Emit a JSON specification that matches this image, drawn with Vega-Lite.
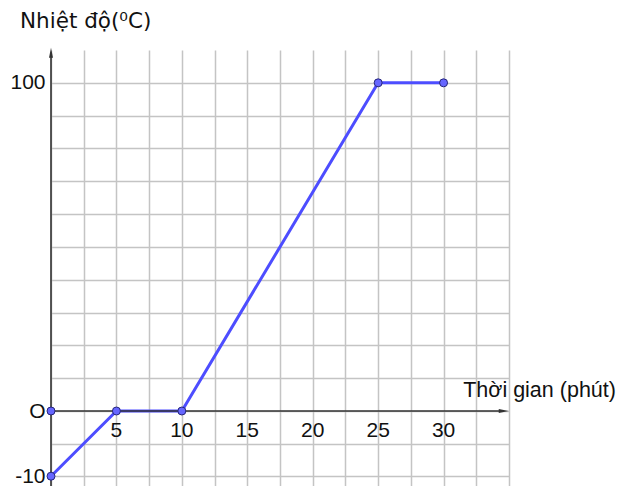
{
  "$schema": "https://vega.github.io/schema/vega-lite/v6.json",
  "width": 458,
  "height": 436,
  "autosize": {"type": "none"},
  "padding": {"left": 51, "top": 50, "right": 112, "bottom": 0},
  "background": "white",
  "config": {
    "view": {"stroke": null},
    "axisX": {"grid": true, "gridColor": "#c4c4c4", "gridWidth": 1.5, "gridOpacity": 1, "labels": false, "ticks": false, "domain": false},
    "axisY": {"grid": true, "gridColor": "#c4c4c4", "gridWidth": 1.5, "gridOpacity": 1, "ticks": false, "domain": false,
      "labelFont": "Liberation Sans", "labelFontSize": 21, "labelColor": "#111111", "labelPadding": 6, "labelBaseline": "middle", "labelFlush": false, "labelOverlap": false}
  },
  "layer": [
    {
      "data": {"values": [
        {"t": 0, "temp": -10},
        {"t": 5, "temp": 0},
        {"t": 10, "temp": 0},
        {"t": 25, "temp": 100},
        {"t": 30, "temp": 100}
      ]},
      "mark": {"type": "line", "color": "#4d4dff", "strokeWidth": 3},
      "encoding": {
        "x": {"field": "t", "type": "quantitative",
          "scale": {"domain": [0, 35], "nice": false, "zero": false},
          "axis": {"title": null, "values": [0, 2.5, 5, 7.5, 10, 12.5, 15, 17.5, 20, 22.5, 25, 27.5, 30, 32.5, 35]}},
        "y": {"field": "temp", "type": "quantitative",
          "scale": {"domain": [-11.5, 0, 110], "range": [436, 361, 0], "nice": false, "zero": false},
          "axis": {"title": null, "values": [-10, -5, 0, 10, 20, 30, 40, 50, 60, 70, 80, 90, 100],
            "labelExpr": "datum.value == 0 ? 'O' : datum.value == 100 ? '100' : datum.value == -10 ? '-10' : ''"}}
      }
    },
    {
      "data": {"values": [{}]},
      "mark": {"type": "rule", "color": "#333333", "strokeWidth": 1.6},
      "encoding": {
        "x": {"datum": 0, "type": "quantitative",
          "axis": {"title": null, "values": [0, 2.5, 5, 7.5, 10, 12.5, 15, 17.5, 20, 22.5, 25, 27.5, 30, 32.5, 35]}},
        "y": {"datum": -11.5, "type": "quantitative",
          "axis": {"title": null, "values": [-10, -5, 0, 10, 20, 30, 40, 50, 60, 70, 80, 90, 100],
            "labelExpr": "datum.value == 0 ? 'O' : datum.value == 100 ? '100' : datum.value == -10 ? '-10' : ''"}},
        "y2": {"datum": 108.5}
      }
    },
    {
      "data": {"values": [{}]},
      "mark": {"type": "rule", "color": "#333333", "strokeWidth": 1.6},
      "encoding": {
        "x": {"datum": 0, "type": "quantitative",
          "axis": {"title": null, "values": [0, 2.5, 5, 7.5, 10, 12.5, 15, 17.5, 20, 22.5, 25, 27.5, 30, 32.5, 35]}},
        "x2": {"datum": 34.3},
        "y": {"datum": 0, "type": "quantitative",
          "axis": {"title": null, "values": [-10, -5, 0, 10, 20, 30, 40, 50, 60, 70, 80, 90, 100],
            "labelExpr": "datum.value == 0 ? 'O' : datum.value == 100 ? '100' : datum.value == -10 ? '-10' : ''"}}
      }
    },
    {
      "data": {"values": [{}]},
      "mark": {"type": "point", "shape": "M0,-1L0.4,1L-0.4,1Z", "filled": true, "color": "#333333", "opacity": 1, "size": 100},
      "encoding": {
        "x": {"datum": 0, "type": "quantitative",
          "axis": {"title": null, "values": [0, 2.5, 5, 7.5, 10, 12.5, 15, 17.5, 20, 22.5, 25, 27.5, 30, 32.5, 35]}},
        "y": {"datum": 109.2, "type": "quantitative",
          "axis": {"title": null, "values": [-10, -5, 0, 10, 20, 30, 40, 50, 60, 70, 80, 90, 100],
            "labelExpr": "datum.value == 0 ? 'O' : datum.value == 100 ? '100' : datum.value == -10 ? '-10' : ''"}}
      }
    },
    {
      "data": {"values": [{}]},
      "mark": {"type": "point", "shape": "M1,0L-1,-0.4L-1,0.4Z", "filled": true, "color": "#333333", "opacity": 1, "size": 100},
      "encoding": {
        "x": {"datum": 34.6, "type": "quantitative",
          "axis": {"title": null, "values": [0, 2.5, 5, 7.5, 10, 12.5, 15, 17.5, 20, 22.5, 25, 27.5, 30, 32.5, 35]}},
        "y": {"datum": 0, "type": "quantitative",
          "axis": {"title": null, "values": [-10, -5, 0, 10, 20, 30, 40, 50, 60, 70, 80, 90, 100],
            "labelExpr": "datum.value == 0 ? 'O' : datum.value == 100 ? '100' : datum.value == -10 ? '-10' : ''"}}
      }
    },
    {
      "data": {"values": [
        {"t": 0, "temp": -10},
        {"t": 0, "temp": 0},
        {"t": 5, "temp": 0},
        {"t": 10, "temp": 0},
        {"t": 25, "temp": 100},
        {"t": 30, "temp": 100}
      ]},
      "mark": {"type": "point", "shape": "circle", "filled": true, "fill": "#6666ff", "stroke": "#26267a", "strokeWidth": 1, "opacity": 1, "size": 64},
      "encoding": {
        "x": {"field": "t", "type": "quantitative",
          "axis": {"title": null, "values": [0, 2.5, 5, 7.5, 10, 12.5, 15, 17.5, 20, 22.5, 25, 27.5, 30, 32.5, 35]}},
        "y": {"field": "temp", "type": "quantitative",
          "axis": {"title": null, "values": [-10, -5, 0, 10, 20, 30, 40, 50, 60, 70, 80, 90, 100],
            "labelExpr": "datum.value == 0 ? 'O' : datum.value == 100 ? '100' : datum.value == -10 ? '-10' : ''"}}
      }
    },
    {
      "data": {"values": [
        {"t": 5, "temp": 0}, {"t": 10, "temp": 0}, {"t": 15, "temp": 0}, {"t": 20, "temp": 0}, {"t": 25, "temp": 0}, {"t": 30, "temp": 0}
      ]},
      "mark": {"type": "text", "font": "Liberation Sans", "fontSize": 21, "color": "#111111", "align": "center", "baseline": "alphabetic", "dy": 26},
      "encoding": {
        "x": {"field": "t", "type": "quantitative",
          "axis": {"title": null, "values": [0, 2.5, 5, 7.5, 10, 12.5, 15, 17.5, 20, 22.5, 25, 27.5, 30, 32.5, 35]}},
        "y": {"field": "temp", "type": "quantitative",
          "axis": {"title": null, "values": [-10, -5, 0, 10, 20, 30, 40, 50, 60, 70, 80, 90, 100],
            "labelExpr": "datum.value == 0 ? 'O' : datum.value == 100 ? '100' : datum.value == -10 ? '-10' : ''"}},
        "text": {"field": "t", "type": "quantitative"}
      }
    },
    {
      "data": {"values": [{"label": "Thời gian (phút)", "t": 31.5, "temp": 0}]},
      "mark": {"type": "text", "font": "Liberation Sans", "fontSize": 21.5, "color": "#111111", "align": "left", "baseline": "alphabetic", "dy": -14},
      "encoding": {
        "x": {"field": "t", "type": "quantitative",
          "axis": {"title": null, "values": [0, 2.5, 5, 7.5, 10, 12.5, 15, 17.5, 20, 22.5, 25, 27.5, 30, 32.5, 35]}},
        "y": {"field": "temp", "type": "quantitative",
          "axis": {"title": null, "values": [-10, -5, 0, 10, 20, 30, 40, 50, 60, 70, 80, 90, 100],
            "labelExpr": "datum.value == 0 ? 'O' : datum.value == 100 ? '100' : datum.value == -10 ? '-10' : ''"}},
        "text": {"field": "label"}
      }
    },
    {
      "data": {"values": [{"label": "Nhiệt độ(⁰C)", "t": 0, "temp": 110}]},
      "mark": {"type": "text", "font": "DejaVu Sans", "fontSize": 21.5, "color": "#111111", "align": "left", "baseline": "alphabetic", "dx": -31, "dy": -22},
      "encoding": {
        "x": {"field": "t", "type": "quantitative",
          "axis": {"title": null, "values": [0, 2.5, 5, 7.5, 10, 12.5, 15, 17.5, 20, 22.5, 25, 27.5, 30, 32.5, 35]}},
        "y": {"field": "temp", "type": "quantitative",
          "axis": {"title": null, "values": [-10, -5, 0, 10, 20, 30, 40, 50, 60, 70, 80, 90, 100],
            "labelExpr": "datum.value == 0 ? 'O' : datum.value == 100 ? '100' : datum.value == -10 ? '-10' : ''"}},
        "text": {"field": "label"}
      }
    }
  ]
}
